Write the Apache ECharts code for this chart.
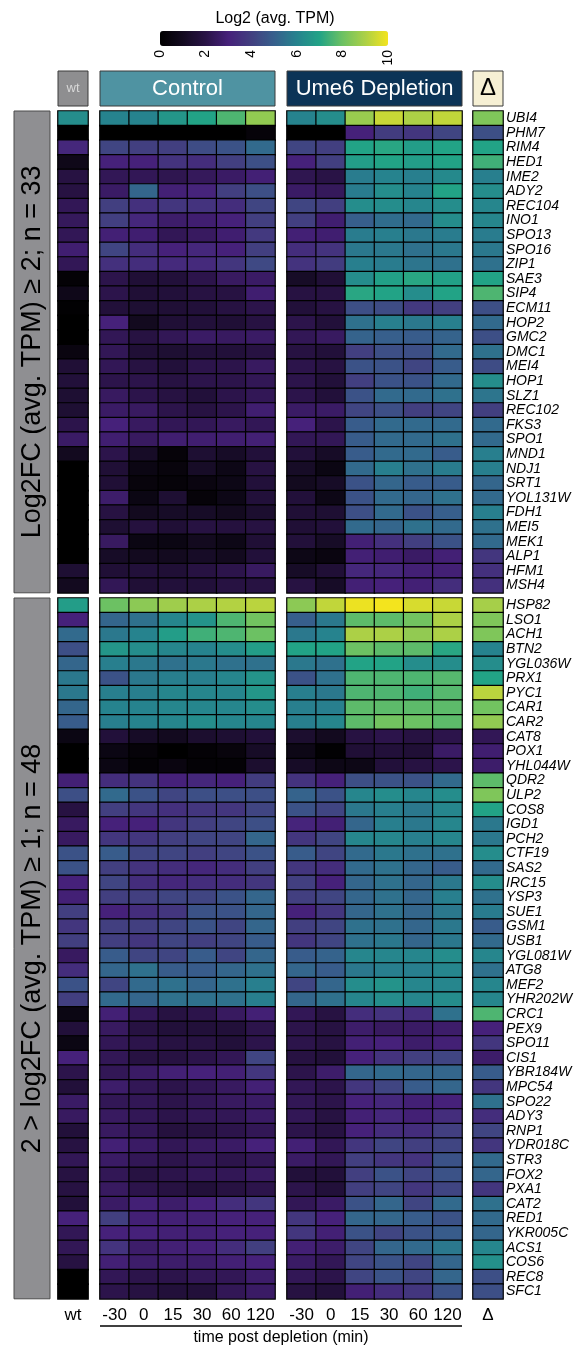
<!DOCTYPE html>
<html>
<head>
<meta charset="utf-8">
<script src="https://cdn.jsdelivr.net/npm/echarts@6/dist/echarts.min.js"></script>
<style>
  html, body { margin: 0; padding: 0; background: #fff; }
  #chart { width: 579px; height: 1348px; }
</style>
</head>
<body>
<div id="chart"></div>
<script>
// ---- data ----
const genesUp2 = ['UBI4','PHM7','RIM4','HED1','IME2','ADY2','REC104','INO1','SPO13','SPO16','ZIP1','SAE3','SIP4','ECM11','HOP2','GMC2','DMC1','MEI4','HOP1','SLZ1','REC102','FKS3','SPO1','MND1','NDJ1','SRT1','YOL131W','FDH1','MEI5','MEK1','ALP1','HFM1','MSH4'];
const genesUp1 = ['HSP82','LSO1','ACH1','BTN2','YGL036W','PRX1','PYC1','CAR1','CAR2','CAT8','POX1','YHL044W','QDR2','ULP2','COS8','IGD1','PCH2','CTF19','SAS2','IRC15','YSP3','SUE1','GSM1','USB1','YGL081W','ATG8','MEF2','YHR202W','CRC1','PEX9','SPO11','CIS1','YBR184W','MPC54','SPO22','ADY3','RNP1','YDR018C','STR3','FOX2','PXA1','CAT2','RED1','YKR005C','ACS1','COS6','REC8','SFC1'];
const sectionTitles = ['Log2FC (avg. TPM) \u2265 2; n = 33', '2 > log2FC (avg. TPM) \u2265 1; n = 48'];
const timeLabels = ['-30', '0', '15', '30', '60', '120'];
const legendTicks = [0, 2, 4, 6, 8, 10];

// log2 average TPM, wild type
const wtLog2 = [
  6.3,0,3.2,0.8,1.9,1.9,2.3,2.4,2.3,2.8,2.3,0.2,0.8,0.1,0,0,0.5,1.6,1.7,1.5,1.5,2.1,2.6,1.0,0,0,0,0,0,0,0,1.5,1.0,
  6.8,3.0,5.3,4.5,5.2,5.7,5.7,5.2,4.9,0.6,0,0,2.9,4.5,1.9,2.5,2.5,4.6,4.6,3.0,2.9,4.0,3.7,4.0,2.5,3.4,4.6,4.0,0.6,1.7,0.6,3.0,2.1,1.7,2.6,2.5,1.7,1.9,2.3,1.9,1.9,1.7,3.0,2.3,2.3,1.9,0,0
];

// log2 average TPM, control, per time point
const controlLog2 = [
  [6.0,6.0,6.6,7.0,7.6,8.6],[0,0,0,0,0,0.3],[4.2,4.0,4.0,4.4,4.6,5.3],[3.0,3.0,3.6,3.4,4.0,4.5],
  [2.3,2.3,2.2,2.4,2.6,2.9],[2.6,5.2,2.9,3.1,4.0,4.5],[4.0,3.5,3.7,3.6,3.4,4.2],[4.0,3.2,2.7,2.8,3.0,4.0],
  [2.9,2.8,2.3,2.5,2.8,3.8],[4.2,3.4,3.0,3.2,3.0,4.0],[3.5,3.4,3.3,3.3,3.7,4.3],[2.1,1.6,1.7,2.1,2.5,2.6],
  [2.1,1.6,1.7,1.9,1.9,2.8],[1.7,1.5,1.6,1.7,1.9,2.1],[3.0,1.0,1.6,1.7,1.6,1.9],[2.3,1.9,2.3,2.6,2.5,2.6],
  [2.3,1.6,1.5,1.7,1.7,1.9],[2.3,1.9,1.7,2.1,2.1,2.5],[2.1,2.1,1.9,2.1,2.1,2.3],[2.5,2.1,1.9,1.7,2.1,2.3],
  [2.6,2.5,2.1,1.9,2.1,2.8],[3.0,2.5,2.3,2.3,2.5,2.3],[2.8,2.5,2.8,2.8,2.8,2.9],[2.1,1.2,0.3,1.5,1.2,1.7],
  [1.6,0.6,0.4,1.2,0.7,1.9],[1.6,0.4,0.3,0.5,0.7,1.7],[2.7,0.6,1.5,0.3,0.7,1.7],[1.9,1.0,1.2,1.2,1.0,1.4],
  [1.5,1.8,1.6,1.9,1.8,1.9],[2.5,0.6,0.6,1.0,0.7,1.6],[1.2,1.0,1.0,1.2,1.0,1.7],[1.6,1.7,1.6,1.9,2.1,2.5],
  [2.3,1.6,1.7,1.7,1.9,1.9],
  [8.0,8.5,8.8,9.0,9.1,9.2],[5.2,5.5,6.1,6.5,7.6,8.1],[5.7,6.0,6.8,7.4,7.6,8.0],[6.6,6.3,6.1,6.0,6.3,6.8],
  [5.9,5.7,5.5,5.7,5.5,5.5],[4.6,5.7,5.9,5.9,6.1,6.5],[5.9,5.9,6.1,6.1,6.1,6.6],[6.0,6.0,6.1,6.1,6.1,6.3],
  [5.9,6.0,6.1,6.3,6.1,6.1],[1.7,1.2,1.0,1.4,1.5,1.7],[0.6,0.3,0,0.2,0.4,1.2],[0.6,0.2,0.5,0.2,0.2,1.4],
  [3.4,3.6,3.0,3.2,3.0,3.9],[5.3,4.6,4.2,4.5,4.5,4.5],[4.0,3.7,3.5,3.7,3.7,4.2],[3.0,3.0,3.7,4.0,4.2,4.5],
  [3.7,3.7,4.0,4.2,4.2,5.2],[4.9,4.2,4.2,4.0,4.2,4.6],[4.0,3.6,3.4,3.2,3.4,4.0],[4.2,3.4,3.2,3.4,3.4,3.7],
  [4.0,4.0,4.2,4.2,4.6,5.2],[3.0,3.4,3.7,4.6,4.6,5.2],[4.0,4.0,4.2,4.6,4.2,5.2],[4.0,3.7,4.2,4.0,4.2,4.9],
  [4.9,4.2,4.2,4.9,4.2,5.2],[5.2,5.5,4.9,4.9,5.2,5.5],[4.2,5.3,5.5,5.2,5.5,5.9],[5.3,5.2,5.5,5.5,5.5,5.9],
  [2.9,2.3,1.9,2.1,2.5,2.9],[2.5,1.9,1.7,1.7,1.7,2.1],[2.3,2.1,1.9,1.9,1.7,2.1],[2.3,1.9,1.9,2.1,2.3,4.2],
  [2.3,2.6,2.9,3.0,2.9,3.7],[2.7,2.3,2.1,2.3,2.5,2.9],[2.3,2.3,2.1,2.3,2.5,2.6],[2.5,2.3,2.1,2.3,2.3,2.6],
  [2.5,2.3,1.8,1.9,2.1,2.3],[2.9,2.6,2.3,2.5,2.6,3.0],[2.6,2.3,2.1,2.3,2.1,2.3],[2.3,1.9,2.1,2.3,2.3,2.5],
  [2.5,2.1,1.9,1.7,1.9,2.1],[2.6,2.9,2.7,3.0,3.4,3.7],[4.0,2.9,2.9,2.9,3.0,3.0],[3.0,3.0,2.9,2.9,3.0,3.0],
  [3.6,2.7,2.9,3.0,3.4,4.0],[2.9,2.7,2.7,2.7,2.9,3.0],[2.3,2.1,2.1,2.3,2.3,2.7],[2.1,1.9,1.7,1.7,2.3,2.6]
];

// log2 average TPM, Ume6 depletion, per time point
const ume6Log2 = [
  [6.0,6.3,8.7,9.4,9.0,9.3],[0,0,3.0,3.9,3.7,4.2],[4.2,4.0,7.0,7.1,6.8,7.0],[3.0,4.0,6.8,7.0,6.8,7.0],
  [2.2,2.0,5.8,6.0,5.9,6.2],[2.6,2.4,5.8,6.3,6.0,7.0],[4.2,4.0,6.3,6.3,6.1,6.3],[4.0,2.8,5.0,5.4,5.3,6.3],
  [2.9,2.8,5.8,5.9,5.7,5.8],[3.4,3.6,5.7,5.7,5.5,5.7],[3.6,3.9,5.9,5.8,5.6,5.5],[1.2,1.6,6.3,6.9,7.1,6.9],
  [1.9,1.9,7.1,7.0,6.3,7.0],[1.7,1.9,4.5,4.4,3.8,4.0],[2.1,1.7,5.5,5.9,5.7,5.9],[2.3,2.5,5.1,5.0,4.9,5.1],
  [1.9,1.7,4.0,4.5,4.5,5.3],[2.1,1.9,4.6,4.6,4.2,4.9],[2.1,1.7,4.0,4.6,4.6,5.3],[2.1,1.7,4.6,5.3,5.3,5.5],
  [2.6,2.6,4.2,4.5,4.0,4.2],[3.0,2.1,4.9,5.3,5.3,5.3],[2.3,2.3,4.9,5.3,5.3,5.5],[1.7,1.2,4.9,5.3,5.3,4.9],
  [1.2,0.6,5.3,5.9,5.5,5.8],[1.0,1.2,4.6,5.2,4.9,4.9],[1.7,0.7,4.6,5.3,5.2,5.5],[1.6,1.5,4.5,5.3,4.6,5.0],
  [1.6,1.7,5.3,5.2,5.5,5.3],[1.7,1.2,2.9,3.5,4.0,4.6],[0.7,0.5,2.9,2.8,2.6,2.9],[1.2,1.6,3.2,3.2,2.9,2.9],
  [1.9,1.2,2.9,3.0,2.9,3.4],
  [8.5,9.3,9.9,10,9.6,9.4],[5.0,5.7,7.8,7.8,8.1,9.0],[5.7,6.0,9.0,9.0,8.6,9.0],[7.0,7.0,8.0,7.8,7.8,7.1],
  [5.7,5.5,7.0,7.0,6.3,6.3],[4.6,5.5,7.6,7.6,7.6,7.7],[5.9,5.7,7.6,7.6,7.4,7.7],[5.9,5.9,7.8,7.8,7.8,7.8],
  [5.9,6.1,7.8,8.1,8.0,7.8],[1.4,1.0,1.9,2.1,1.9,2.1],[0.7,0.1,1.6,1.7,1.6,2.6],[1.2,0.7,0.7,1.7,1.9,2.1],
  [3.6,3.0,4.5,4.6,4.6,5.3],[5.1,4.6,6.1,6.3,6.1,6.3],[4.6,4.2,5.7,5.9,5.7,6.1],[3.1,2.9,5.2,5.9,5.7,6.1],
  [3.7,4.2,6.1,6.1,5.9,6.1],[4.9,4.2,5.3,5.7,5.5,5.5],[3.7,3.4,5.3,5.5,5.2,4.9],[4.0,3.0,5.2,5.5,5.2,5.7],
  [4.0,4.2,5.2,5.5,5.2,5.9],[3.0,3.7,5.2,5.5,5.2,5.7],[4.0,4.2,5.5,5.5,5.2,5.7],[3.7,4.2,5.5,5.7,5.2,5.7],
  [4.9,5.1,6.1,6.1,6.1,6.3],[5.2,4.9,5.7,5.9,5.9,6.1],[4.2,5.2,6.3,6.5,6.1,6.1],[5.2,5.5,6.1,6.3,6.1,6.3],
  [2.3,1.9,3.4,3.6,3.4,5.5],[2.1,1.9,2.7,2.5,2.6,2.7],[2.1,1.9,2.9,3.0,2.7,2.9],[1.9,1.7,3.0,3.6,4.0,4.2],
  [2.1,2.7,5.2,5.3,5.2,5.2],[2.3,2.1,3.7,4.2,4.9,5.2],[2.3,2.1,3.0,3.2,2.9,3.0],[2.3,1.9,2.9,3.2,2.9,3.4],
  [2.1,1.9,3.0,3.4,3.4,4.0],[2.9,2.3,3.7,4.2,4.0,4.2],[2.6,2.3,4.0,3.7,3.6,4.6],[1.7,1.7,4.0,4.6,4.2,4.6],
  [2.1,1.7,4.0,4.2,3.7,4.2],[2.3,2.6,4.6,5.2,4.2,5.3],[3.7,3.0,5.2,5.2,4.9,4.6],[3.7,2.9,4.6,4.2,4.6,4.9],
  [2.9,2.7,4.2,5.2,5.3,5.7],[2.6,2.3,4.2,4.6,4.2,5.2],[2.3,2.1,4.2,4.6,4.2,5.2],[1.9,1.7,2.9,3.4,3.7,4.6]
];

// change column (Ume6 depletion vs control), drawn on the same colour ramp
const deltaScore = [
  8.3,4.5,7.0,7.4,5.9,6.3,6.1,6.1,5.8,5.7,5.5,7.0,7.6,4.5,5.3,4.5,5.5,4.4,6.3,5.6,4.0,5.3,5.3,5.9,5.9,5.2,5.3,5.9,5.5,5.3,3.7,3.5,3.5,
  8.9,8.3,8.3,6.0,6.3,7.0,9.2,8.1,8.6,2.3,2.8,2.7,7.8,8.3,7.0,5.7,5.7,6.3,5.3,6.3,5.5,5.8,4.9,5.3,6.1,5.5,6.1,6.1,7.6,3.0,3.7,2.7,4.9,3.7,5.5,3.4,4.2,3.7,5.3,5.2,3.7,5.5,5.3,5.2,6.1,6.4,4.5,4.5
];

// black-to-viridis ramp, evenly spaced over 0..10
const rampColors = ['#000000','#130a1f','#291346','#46217a','#423f80','#375f8c','#26838e','#22a386','#6cc163','#acd046','#f3e41e'];

// ---- layout ----
const FONT = '"Liberation Sans", Arial, Helvetica, sans-serif';
const ROW_H = 14.6;
const sections = [
  { genes: genesUp2, top: 111, offset: 0 },
  { genes: genesUp1, top: 598, offset: genesUp2.length }
];
const groups = [
  { cols: ['wt'], left: 58, width: 30, values: i => [wtLog2[i]] },
  { cols: timeLabels, left: 100, width: 175, values: i => controlLog2[i] },
  { cols: timeLabels, left: 287, width: 175, values: i => ume6Log2[i] },
  { cols: ['\u0394'], left: 473, width: 30, values: i => [deltaScore[i]] }
];

const grid = [], xAxis = [], yAxis = [], series = [];
sections.forEach((sec, s) => {
  groups.forEach((g, gi) => {
    const idx = grid.length;
    grid.push({ left: g.left, top: sec.top, width: g.width, height: sec.genes.length * ROW_H });
    xAxis.push({
      gridIndex: idx, type: 'category', data: g.cols, position: 'bottom',
      axisLine: { show: false }, axisTick: { show: false }, splitLine: { show: false },
      axisLabel: { show: s === 1, color: '#000', fontSize: 17, fontFamily: FONT, margin: 8, interval: 0 }
    });
    yAxis.push({
      gridIndex: idx, type: 'category', data: sec.genes, inverse: true, position: 'right',
      axisLine: { show: false }, axisTick: { show: false }, splitLine: { show: false },
      axisLabel: { show: gi === 3, color: '#000', fontSize: 14, fontStyle: 'italic', fontFamily: FONT, margin: 3, interval: 0 }
    });
    const data = [];
    sec.genes.forEach((name, r) => {
      g.values(sec.offset + r).forEach((v, c) => data.push([c, r, v]));
    });
    series.push({
      type: 'heatmap', xAxisIndex: idx, yAxisIndex: idx, data,
      itemStyle: { borderColor: '#000', borderWidth: 1.2 },
      emphasis: { disabled: true }, silent: true, animation: false
    });
  });
});

// colour key tick axis
const keyIdx = grid.length;
grid.push({ left: 160, top: 31, width: 228, height: 15 });
xAxis.push({
  gridIndex: keyIdx, type: 'value', min: 0, max: 10, interval: 2, position: 'bottom',
  axisLine: { show: false }, axisTick: { show: false }, splitLine: { show: false },
  axisLabel: { rotate: 90, fontSize: 14, color: '#000', fontFamily: FONT, margin: 4,
               customValues: legendTicks }
});
yAxis.push({ gridIndex: keyIdx, type: 'value', show: false });

// header boxes and side labels
const headerTop = 71, headerH = 35;
const graphic = [
  { type: 'text', x: 275, y: 19, style: { text: 'Log2 (avg. TPM)', font: '16px ' + FONT, fill: '#000', align: 'center', verticalAlign: 'middle' } },
  { type: 'rect', shape: { x: 58, y: headerTop, width: 30, height: headerH }, style: { fill: '#8e8e90', stroke: '#3a3a3a', lineWidth: 1 } },
  { type: 'text', x: 73, y: headerTop + headerH / 2, style: { text: 'wt', font: '13px ' + FONT, fill: '#d8d8d8', align: 'center', verticalAlign: 'middle' } },
  { type: 'rect', shape: { x: 100, y: headerTop, width: 175, height: headerH }, style: { fill: '#4f93a2', stroke: '#3a3a3a', lineWidth: 1 } },
  { type: 'text', x: 187.5, y: headerTop + headerH / 2, style: { text: 'Control', font: '22px ' + FONT, fill: '#fff', align: 'center', verticalAlign: 'middle' } },
  { type: 'rect', shape: { x: 287, y: headerTop, width: 175, height: headerH }, style: { fill: '#0c3457', stroke: '#3a3a3a', lineWidth: 1 } },
  { type: 'text', x: 374.5, y: headerTop + headerH / 2, style: { text: 'Ume6 Depletion', font: '22px ' + FONT, fill: '#fff', align: 'center', verticalAlign: 'middle' } },
  { type: 'rect', shape: { x: 473, y: headerTop, width: 30, height: headerH }, style: { fill: '#f6f0d4', stroke: '#3a3a3a', lineWidth: 1 } },
  { type: 'text', x: 488, y: headerTop + headerH / 2, style: { text: '\u0394', font: '24px ' + FONT, fill: '#000', align: 'center', verticalAlign: 'middle' } },
  { type: 'line', shape: { x1: 100, y1: 1326, x2: 462, y2: 1326 }, style: { stroke: '#000', lineWidth: 1.5 } },
  { type: 'text', x: 281, y: 1338, style: { text: 'time post depletion (min)', font: '16px ' + FONT, fill: '#000', align: 'center', verticalAlign: 'middle' } }
];
sections.forEach((sec, s) => {
  const h = sec.genes.length * ROW_H;
  graphic.push({ type: 'rect', shape: { x: 14, y: sec.top, width: 36, height: h }, style: { fill: '#8f8f92', stroke: '#4a4a4a', lineWidth: 1 } });
  graphic.push({ type: 'text', x: 33, y: sec.top + h / 2, rotation: Math.PI / 2,
    style: { text: sectionTitles[s], font: '27px ' + FONT, fill: '#000', align: 'center', verticalAlign: 'middle' } });
});

const chart = echarts.init(document.getElementById('chart'), null, { renderer: 'canvas' });
chart.setOption({
  backgroundColor: '#fff',
  animation: false,
  grid, xAxis, yAxis, series, graphic,
  visualMap: {
    type: 'continuous', min: 0, max: 10, orient: 'horizontal',
    left: 160, top: 31, itemWidth: 15, itemHeight: 228, padding: 0,
    calculable: false, realtime: false, hoverLink: false,
    inRange: { color: rampColors },
    seriesIndex: series.map((_, i) => i)
  }
});
</script>
</body>
</html>
